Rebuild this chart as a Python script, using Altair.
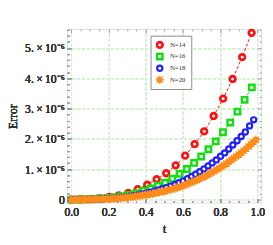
import altair as alt
import pandas as pd

# ---------------- data (error in units of 1e-6) ----------------
series_names = ["N=14", "N=16", "N=18", "N=20"]

t14 = [0.000, 0.051, 0.102, 0.153, 0.204, 0.255, 0.306, 0.357, 0.408, 0.459,
       0.510, 0.561, 0.612, 0.663, 0.714, 0.765, 0.816, 0.867, 0.918, 0.969]
e14 = [0.000, 0.010, 0.020, 0.050, 0.090, 0.140, 0.220, 0.340, 0.490, 0.670,
       0.870, 1.130, 1.450, 1.830, 2.250, 2.760, 3.330, 3.980, 4.700, 5.500]

t16 = [0.000, 0.039, 0.078, 0.116, 0.155, 0.194, 0.233, 0.272, 0.310, 0.349,
       0.388, 0.427, 0.466, 0.504, 0.543, 0.582, 0.621, 0.660, 0.698, 0.737,
       0.776, 0.815, 0.854, 0.893, 0.931, 0.970]
e16 = [0.000, 0.005, 0.010, 0.020, 0.035, 0.055, 0.080, 0.115, 0.155, 0.210,
       0.290, 0.370, 0.460, 0.560, 0.690, 0.850, 1.010, 1.210, 1.420, 1.660,
       1.920, 2.220, 2.540, 2.900, 3.290, 3.700]

t18 = [0.000, 0.022, 0.045, 0.067, 0.089, 0.111, 0.134, 0.156, 0.178, 0.200,
       0.223, 0.245, 0.267, 0.290, 0.312, 0.334, 0.356, 0.379, 0.401, 0.423,
       0.445, 0.468, 0.490, 0.512, 0.534, 0.557, 0.579, 0.601, 0.624, 0.646,
       0.668, 0.690, 0.713, 0.735, 0.757, 0.779, 0.802, 0.824, 0.846, 0.868,
       0.891, 0.913, 0.935, 0.958, 0.980]
e18 = [0.000, 0.001, 0.003, 0.005, 0.008, 0.012, 0.017, 0.023, 0.031, 0.039,
       0.049, 0.058, 0.071, 0.083, 0.106, 0.131, 0.155, 0.185, 0.212, 0.243,
       0.279, 0.316, 0.356, 0.396, 0.446, 0.497, 0.554, 0.617, 0.689, 0.765,
       0.840, 0.920, 1.010, 1.110, 1.210, 1.310, 1.430, 1.540, 1.670, 1.800,
       1.940, 2.080, 2.230, 2.430, 2.630]

t20 = [0.000, 0.013, 0.026, 0.040, 0.053, 0.066, 0.079, 0.093, 0.106, 0.119,
       0.132, 0.146, 0.159, 0.172, 0.185, 0.198, 0.212, 0.225, 0.238, 0.251,
       0.265, 0.278, 0.291, 0.304, 0.318, 0.331, 0.344, 0.357, 0.370, 0.384,
       0.397, 0.410, 0.423, 0.437, 0.450, 0.463, 0.476, 0.490, 0.503, 0.516,
       0.529, 0.542, 0.556, 0.569, 0.582, 0.595, 0.609, 0.622, 0.635, 0.648,
       0.662, 0.675, 0.688, 0.701, 0.714, 0.728, 0.741, 0.754, 0.767, 0.781,
       0.794, 0.807, 0.820, 0.834, 0.847, 0.860, 0.873, 0.886, 0.900, 0.913,
       0.926, 0.939, 0.953, 0.966, 0.979, 0.992]
e20 = [0.000, 0.0005, 0.001, 0.002, 0.003, 0.004, 0.005, 0.006, 0.008, 0.010,
       0.012, 0.015, 0.018, 0.021, 0.025, 0.028, 0.033, 0.037, 0.041, 0.046,
       0.052, 0.058, 0.065, 0.073, 0.084, 0.095, 0.106, 0.117, 0.129, 0.142,
       0.154, 0.168, 0.182, 0.198, 0.214, 0.230, 0.246, 0.265, 0.283, 0.304,
       0.324, 0.345, 0.369, 0.394, 0.420, 0.448, 0.479, 0.509, 0.541, 0.575,
       0.610, 0.643, 0.679, 0.717, 0.757, 0.801, 0.844, 0.888, 0.933, 0.983,
       1.033, 1.082, 1.133, 1.191, 1.247, 1.304, 1.361, 1.423, 1.487, 1.550,
       1.613, 1.681, 1.755, 1.827, 1.898, 1.972]

x_tick_values = [0.0, 0.05, 0.1, 0.15, 0.2, 0.25, 0.3, 0.35, 0.4, 0.45, 0.5,
                 0.55, 0.6, 0.65, 0.7, 0.75, 0.8, 0.85, 0.9, 0.95, 1.0]
y_tick_values = [0.0, 0.2, 0.4, 0.6, 0.8, 1.0, 1.2, 1.4, 1.6, 1.8, 2.0, 2.2, 2.4,
                 2.6, 2.8, 3.0, 3.2, 3.4, 3.6, 3.8, 4.0, 4.2, 4.4, 4.6, 4.8, 5.0,
                 5.2, 5.4, 5.6]

rows = []
for name, ts, es in zip(series_names, [t14, t16, t18, t20], [e14, e16, e18, e20]):
    for t, e in zip(ts, es):
        rows.append({"series": name, "t": t, "err": e})
df = pd.DataFrame(rows)

# ---------------- styles ----------------
colors = ["#ff1010", "#10e010", "#2020ff", "#ff8c1a"]
sun = ("M0,-1L0.21,-0.508L0.707,-0.707L0.508,-0.21L1,0L0.508,0.21L0.707,0.707"
       "L0.21,0.508L0,1L-0.21,0.508L-0.707,0.707L-0.508,0.21L-1,0L-0.508,-0.21"
       "L-0.707,-0.707L-0.21,-0.508Z")
shapes = ["circle", "square", "circle", sun]
sizes = [34, 26, 17, 36]
widths = [2.8, 2.0, 1.4, 1.3]
FONT = "Liberation Serif"
TXT = "#333333"
FRAME = "#9a9a9a"
GRID = "#d2f2ce"

xscale = alt.Scale(domain=[-0.022, 1.02], nice=False, zero=False)
yscale = alt.Scale(domain=[-0.096, 5.63], nice=False, zero=False)

xmaj = "abs(datum.value*5 - round(datum.value*5)) < 1e-6"
ymaj = "abs(datum.value - round(datum.value)) < 1e-6"


def tsize(test):
    return {"condition": {"test": test, "value": -4}, "value": -2}


def gop(test):
    return {"condition": {"test": test, "value": 1}, "value": 0}


x_axis = alt.Axis(
    orient="bottom", values=x_tick_values, domain=False,
    tickColor=FRAME, tickSize=tsize(xmaj), tickWidth=1,
    labelExpr=xmaj + " ? format(datum.value, '.1f') : ''",
    labelFont=FONT, labelFontSize=12, labelColor=TXT, labelPadding=8,
    labelFlush=False, labelOverlap=False,
    grid=True, gridColor=GRID, gridDash=[3, 2], gridOpacity=gop(xmaj),
    title="t", titleFont=FONT, titleFontSize=12, titleFontWeight="normal",
    titleColor=TXT, titleX=100, titleY=31, titleBaseline="alphabetic",
)
y_axis = alt.Axis(
    orient="left", values=y_tick_values, domain=False,
    tickColor=FRAME, tickSize=tsize(ymaj), tickWidth=1,
    labelExpr="datum.value == 0 ? '0' : (" + ymaj +
              " ? format(datum.value, 'd') + '.\u2009\u00d7\u200910\u207b\u2076' : '')",
    labelFont=FONT, labelFontSize=12, labelColor=TXT, labelPadding=7,
    labelOverlap=False,
    grid=True, gridColor=GRID, gridDash=[3, 2], gridOpacity=gop(ymaj),
    title="Error", titleFont=FONT, titleFontSize=12, titleFontWeight="normal",
    titleColor=TXT, titleX=-56, titleY=90, titleBaseline="middle",
    titleAngle=270,
)
x_top = alt.Axis(orient="top", values=x_tick_values, domain=False, labels=False,
                 tickColor=FRAME, tickSize=tsize(xmaj), grid=False, title=None)
y_right = alt.Axis(orient="right", values=y_tick_values, domain=False, labels=False,
                   tickColor=FRAME, tickSize=tsize(ymaj), grid=False, title=None)

base = alt.Chart(df)

# frame axes (top/right) through an invisible layer
frame = base.mark_point(opacity=0).encode(
    x=alt.X("t:Q", scale=xscale, axis=x_top),
    y=alt.Y("err:Q", scale=yscale, axis=y_right),
)

lines = []
for name, col in zip(series_names, colors):
    lines.append(
        base.transform_filter(alt.datum.series == name)
        .mark_line(color=col, strokeWidth=1, strokeDash=[3, 2])
        .encode(x=alt.X("t:Q", scale=xscale, axis=x_axis),
                y=alt.Y("err:Q", scale=yscale, axis=y_axis))
    )

legend = alt.Legend(
    title=None, orient="none", legendX=86, legendY=7,
    labelFont=FONT, labelFontSize=7, labelColor=TXT, labelOffset=6,
    symbolFillColor="white", padding=5, rowPadding=3, clipHeight=9,
    strokeColor="#8a8a8a", fillColor="white", cornerRadius=0,
)

points = base.mark_point(filled=True, fill="white", opacity=1).encode(
    x=alt.X("t:Q", scale=xscale, axis=x_axis),
    y=alt.Y("err:Q", scale=yscale, axis=y_axis),
    stroke=alt.Stroke("series:N", scale=alt.Scale(domain=series_names, range=colors), legend=legend),
    shape=alt.Shape("series:N", scale=alt.Scale(domain=series_names, range=shapes), legend=legend),
    size=alt.Size("series:N", scale=alt.Scale(domain=series_names, range=sizes), legend=legend),
    strokeWidth=alt.StrokeWidth("series:N", scale=alt.Scale(domain=series_names, range=widths), legend=legend),
    order=alt.Order("series:N"),
)

chart = alt.layer(*lines, points, frame).resolve_axis(
    x="independent", y="independent"
).properties(
    width=200, height=179,
    autosize=alt.AutoSizeParams(type="none"),
    padding={"left": 61, "top": 18, "right": 4, "bottom": 32},
).configure_view(
    stroke=FRAME, strokeWidth=1
).configure(background="white")

chart.save("out.html", embed_options={"renderer": "svg", "actions": False})
